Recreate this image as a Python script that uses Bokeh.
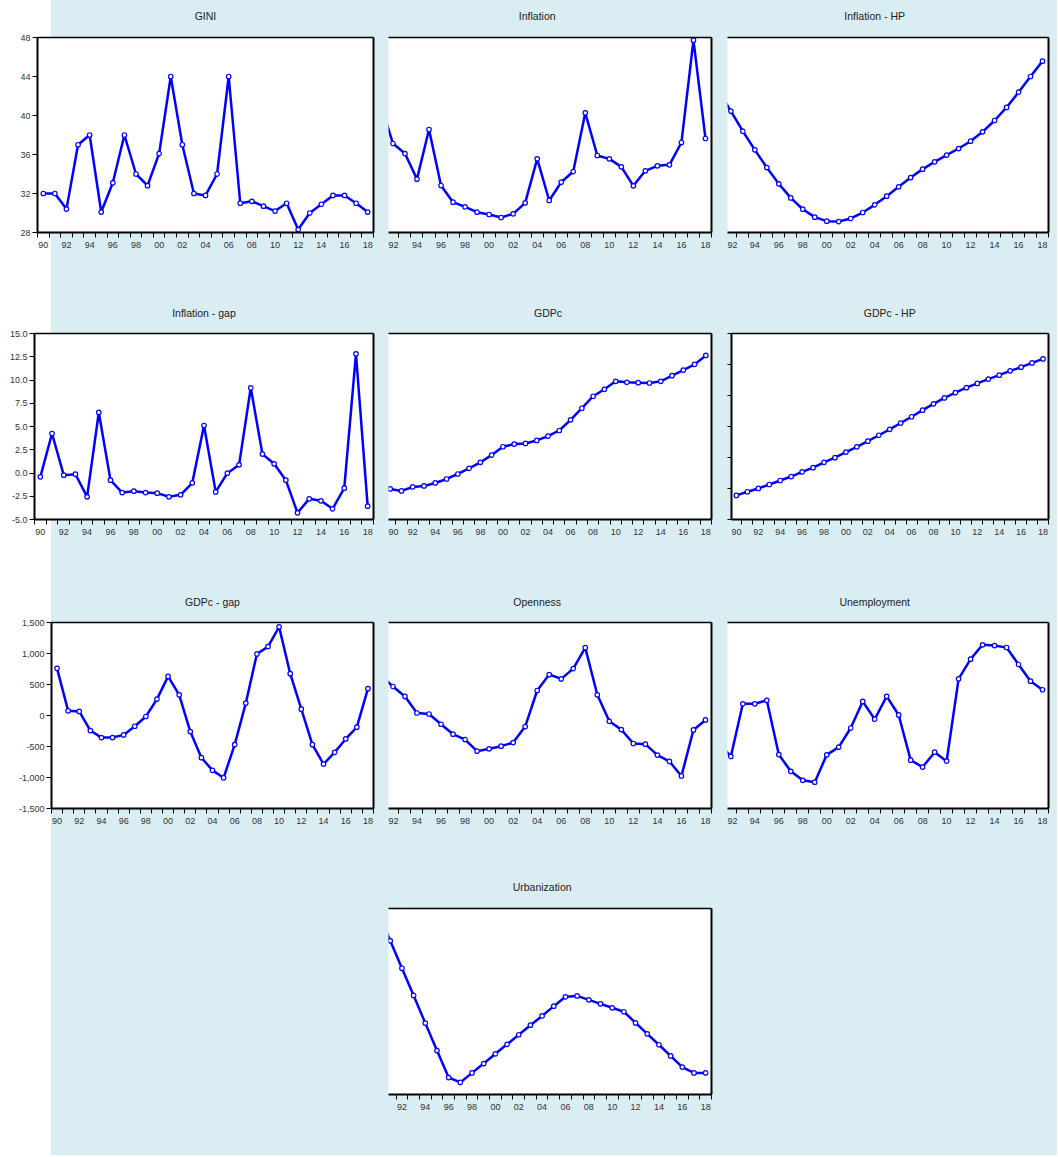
from bokeh.plotting import figure
from bokeh.models import Range1d, FixedTicker, LinearAxis, Spacer
from bokeh.layouts import row, column
from bokeh.embed import file_html
from bokeh.resources import INLINE

# ---------------- data ----------------
years = list(range(1990, 2019))
year_label_positions = [1990, 1992, 1994, 1996, 1998, 2000, 2002, 2004,
                        2006, 2008, 2010, 2012, 2014, 2016, 2018]
year_tick_labels = ["90", "92", "94", "96", "98", "00", "02", "04",
                    "06", "08", "10", "12", "14", "16", "18"]

gini = [32.0, 32.0, 30.4, 37.0, 38.0, 30.1, 33.1, 38.0, 34.0, 32.8, 36.1, 44.0,
        37.0, 32.0, 31.8, 34.0, 44.0, 31.0, 31.2, 30.7, 30.2, 31.0, 28.3, 30.0,
        30.9, 31.8, 31.8, 31.0, 30.1]
inflation = [16.8, 19.7, 13.69, 12.15, 8.21, 15.85, 7.23, 4.67, 3.95, 3.13, 2.77,
             2.31, 2.87, 4.56, 11.33, 4.92, 7.74, 9.38, 18.41, 11.85, 11.33, 10.10,
             7.18, 9.49, 10.26, 10.41, 13.85, 29.59, 14.46]
inflation_hp = [17.3, 15.6, 13.96, 12.31, 10.78, 9.33, 7.99, 6.84, 5.91, 5.26, 4.93,
                4.90, 5.15, 5.64, 6.27, 6.98, 7.75, 8.51, 9.20, 9.80, 10.35, 10.89,
                11.49, 12.26, 13.19, 14.26, 15.51, 16.80, 18.06]
inflation_gap = [-0.41, 4.25, -0.23, -0.13, -2.56, 6.51, -0.77, -2.10, -1.95, -2.10,
                 -2.17, -2.56, -2.35, -1.06, 5.11, -2.03, -0.02, 0.88, 9.16, 2.03,
                 0.99, -0.77, -4.28, -2.78, -2.99, -3.85, -1.63, 12.81, -3.57]
gdpc = [11943, 11686, 12200, 12329, 12714, 13229, 13872, 14600, 15372, 16315, 17386,
        17729, 17815, 18201, 18758, 19486, 20858, 22358, 23901, 24801, 25830, 25701,
        25658, 25615, 25830, 26558, 27287, 28016, 29173]
gdpc_hp = [11112, 11581, 12007, 12519, 13030, 13542, 14139, 14693, 15375, 15972, 16697,
           17379, 18103, 18871, 19638, 20448, 21258, 22111, 22921, 23688, 24370, 25009,
           25564, 26118, 26629, 27184, 27652, 28207, 28718]
gdpc_gap = [761, 75, 65, -243, -356, -356, -313, -173, -16, 264, 631, 334, -259, -680,
            -885, -1004, -470, 200, 993, 1111, 1430, 674, 102, -470, -783, -594, -378,
            -189, 432]
openness = [57.0, 62.9, 59.36, 56.15, 50.80, 50.48, 47.17, 43.96, 42.25, 38.50, 39.25,
            40.11, 41.28, 46.42, 58.07, 63.21, 61.80, 65.13, 71.87, 56.68, 48.13, 45.45,
            40.96, 40.75, 37.22, 35.19, 30.48, 45.35, 48.56]
unemployment = [8.6, 9.46, 8.96, 10.94, 10.94, 11.07, 9.03, 8.40, 8.06, 7.99, 9.02,
                9.31, 10.03, 11.03, 10.36, 11.22, 10.52, 8.82, 8.56, 9.12, 8.78, 11.88,
                12.62, 13.16, 13.13, 13.06, 12.42, 11.79, 11.47]
urbanization = [43.58, 43.461, 43.343, 43.226, 43.107, 42.989, 42.873, 42.852, 42.893,
                42.933, 42.975, 43.016, 43.057, 43.098, 43.138, 43.180, 43.220, 43.224,
                43.207, 43.190, 43.173, 43.156, 43.108, 43.061, 43.014, 42.966, 42.918,
                42.893, 42.893]

gini_ticks = [28, 32, 36, 40, 44, 48]
gini_tick_labels = ["28", "32", "36", "40", "44", "48"]
gap_ticks = [-5.0, -2.5, 0.0, 2.5, 5.0, 7.5, 10.0, 12.5, 15.0]
gap_tick_labels = ["-5.0", "-2.5", "0.0", "2.5", "5.0", "7.5", "10.0", "12.5", "15.0"]
gdpgap_ticks = [-1500, -1000, -500, 0, 500, 1000, 1500]
gdpgap_tick_labels = ["-1,500", "-1,000", "-500", "0", "500", "1,000", "1,500"]
gdphp_ticks = [8000, 12000, 16000, 20000, 24000, 28000, 32000]

# ---------------- style ----------------
BG = "#DAEDF3"
LINE = "#0000FF"
FONT = "Liberation Sans"
X_FULL_START, X_END = 1989.5, 2018.5
TITLE_X = (X_FULL_START + X_END) / 2   # titles centred over the full sample span
year_bounds = [y - 0.5 for y in years] + [years[-1] + 0.5]


def panel(title, ys, x_start, y_lo, y_hi, width, height, bl, br, bt, bb,
          yticks=None, ylabels=None, left_axis=False, title_gap=16):
    p = figure(width=width, height=height, title=None,
               x_range=Range1d(x_start, X_END), y_range=Range1d(y_lo, y_hi),
               output_backend="svg", toolbar_location=None,
               y_axis_location="left" if left_axis else None,
               min_border_left=bl, min_border_right=br,
               min_border_top=bt, min_border_bottom=bb)
    p.border_fill_color = None
    p.background_fill_color = "white"
    p.outline_line_color = None
    p.xgrid.visible = False
    p.ygrid.visible = False

    xa = p.xaxis[0]
    xa.ticker = FixedTicker(ticks=year_label_positions, minor_ticks=year_bounds)
    xa.major_label_overrides = dict(zip(year_label_positions, year_tick_labels))
    xa.major_tick_out = 0
    xa.major_tick_in = 0
    xa.minor_tick_out = 5
    xa.minor_tick_in = 0
    xa.minor_tick_line_color = "black"
    xa.axis_line_width = 2
    xa.axis_line_color = "black"
    xa.major_label_standoff = 4
    xa.major_label_text_font = FONT
    xa.major_label_text_font_size = "9px"
    xa.major_label_text_color = "#333333"

    if left_axis:
        ya = p.yaxis[0]
        ya.axis_line_width = 2
        ya.axis_line_color = "black"
        ya.major_tick_in = 0
        ya.minor_tick_in = 0
        if ylabels is not None:
            ya.ticker = FixedTicker(ticks=yticks, minor_ticks=[])
            ya.major_label_overrides = dict(zip(yticks, ylabels))
            ya.major_tick_out = 5
            ya.minor_tick_out = 0
            ya.major_label_standoff = 2
            ya.major_label_text_font = FONT
            ya.major_label_text_font_size = "9px"
            ya.major_label_text_color = "#333333"
        else:
            # unlabeled ticks only (labels hidden in the source graph)
            ya.ticker = FixedTicker(ticks=[], minor_ticks=yticks)
            ya.major_tick_out = 0
            ya.minor_tick_out = 4
            ya.minor_tick_line_color = "black"
            ya.major_label_standoff = 0

    # top frame edge; carries the panel title as its single label
    top = LinearAxis(ticker=FixedTicker(ticks=[TITLE_X], minor_ticks=[]),
                     major_label_overrides={TITLE_X: title},
                     axis_line_width=1.5, axis_line_color="black",
                     major_tick_out=0, major_tick_in=0,
                     minor_tick_out=0, minor_tick_in=0,
                     major_label_standoff=title_gap,
                     major_label_text_font=FONT, major_label_text_font_size="10.5px",
                     major_label_text_color="#222222")
    p.add_layout(top, "above")
    right = LinearAxis(ticker=FixedTicker(ticks=[], minor_ticks=[]), axis_line_width=2,
                       axis_line_color="black", major_tick_out=0, major_tick_in=0,
                       minor_tick_out=0, minor_tick_in=0, major_label_standoff=0)
    p.add_layout(right, "right")

    p.line(years, ys, line_color=LINE, line_width=2.5)
    p.scatter(years, ys, marker="circle", size=4.5, line_color=LINE,
              fill_color="white", line_width=1.2)
    return p


W1, W2, W3 = 388, 339, 330
H1, H2, H3, H4 = 270, 290, 290, 305

f_gini = panel("GINI", gini, 1989.5, 28, 48, W1, H1, 37, 15, 37, 38,
               gini_ticks, gini_tick_labels, left_axis=True)
f_infl = panel("Inflation", inflation, 1991.63, 0, 30, W2, H1, 0, 16, 37, 38)
f_inflhp = panel("Inflation - HP", inflation_hp, 1991.72, 4, 20, W3, H1, 0, 9, 37, 38)

f_gap = panel("Inflation - gap", inflation_gap, 1989.5, -5, 15, W1, H2, 34, 15, 63, 41,
              gap_ticks, gap_tick_labels, left_axis=True, title_gap=15)
f_gdpc = panel("GDPc", gdpc, 1989.85, 8000, 32000, W2, H2, 0, 16, 63, 41, title_gap=15)
f_gdphp = panel("GDPc - HP", gdpc_hp, 1989.55, 8000, 32000, W3, H2, 4, 9, 63, 41,
                gdphp_ticks, None, left_axis=True, title_gap=15)

f_gdpgap = panel("GDPc - gap", gdpc_gap, 1989.5, -1500, 1500, W1, H3, 51, 15, 62, 42,
                 gdpgap_ticks, gdpgap_tick_labels, left_axis=True, title_gap=15)
f_open = panel("Openness", openness, 1991.63, 20, 80, W2, H3, 0, 16, 62, 42, title_gap=15)
f_unemp = panel("Unemployment", unemployment, 1991.72, 7, 14, W3, H3, 0, 9, 62, 42,
                title_gap=15)

f_urb = panel("Urbanization", urbanization, 1990.85, 42.8, 43.6, W2, H4, 0, 16, 58, 61)

r1 = row(f_gini, f_infl, f_inflhp, spacing=0)
r2 = row(f_gap, f_gdpc, f_gdphp, spacing=0)
r3 = row(f_gdpgap, f_open, f_unemp, spacing=0)
r4 = row(Spacer(width=W1, height=H4), f_urb, Spacer(width=W3, height=H4), spacing=0)

p = column(r1, r2, r3, r4, spacing=0,
           styles={"background": "linear-gradient(to right, #ffffff 0px, #ffffff 51px, "
                                 + BG + " 51px, " + BG + " 100%)"})

open("out.html", "w").write(file_html(p, INLINE))
